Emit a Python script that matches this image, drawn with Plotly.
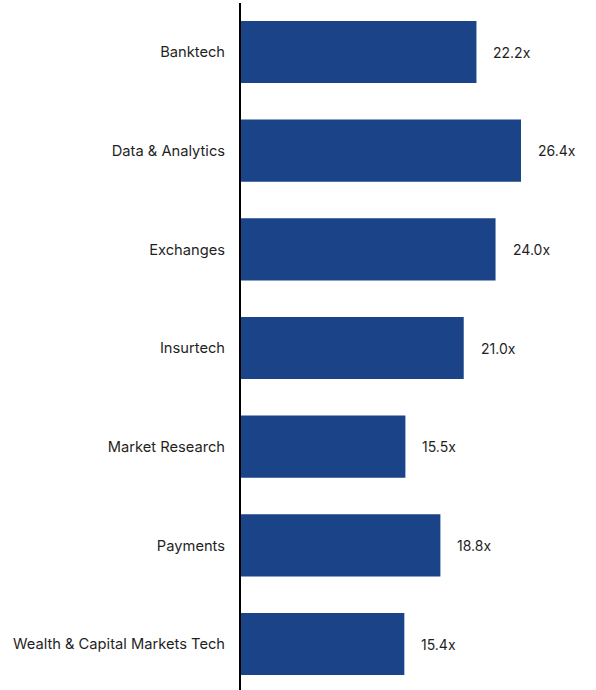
import plotly.graph_objects as go

categories = ['Banktech', 'Data & Analytics', 'Exchanges', 'Insurtech',
              'Market Research', 'Payments', 'Wealth & Capital Markets Tech']
multiples = [22.2, 26.4, 24.0, 21.0, 15.5, 18.8, 15.4]

bar_color = '#1A4487'

fig = go.Figure()
fig.add_trace(go.Bar(
    x=multiples,
    y=categories,
    orientation='h',
    width=0.63,
    marker=dict(color=bar_color, line=dict(width=0)),
    hoverinfo='skip'
))

# value labels sit a bit to the right of each bar
for cat, val in zip(categories, multiples):
    fig.add_annotation(
        x=val, y=cat, text=f'{val:.1f}x',
        showarrow=False, xanchor='left', xshift=15,
        font=dict(size=14, color='#1f1f1f')
    )

fig.update_layout(
    width=596, height=690,
    margin=dict(l=241, r=5, t=3, b=0),
    plot_bgcolor='white', paper_bgcolor='white',
    showlegend=False,
    font=dict(family='Inter, Noto Sans, sans-serif', size=14, color='#1f1f1f'),
    xaxis=dict(range=[0, 33], showgrid=False, zeroline=False,
               showticklabels=False, showline=False),
    yaxis=dict(range=[6.466, -0.497], showgrid=False, zeroline=False,
               showline=True, linecolor='black', linewidth=2,
               ticks='', ticklabelstandoff=11,
               tickfont=dict(size=14.7, color='#1f1f1f')),
)

# drop the default body margin so the figure sits at the page corner
fig.write_html('out.html', config={'displayModeBar': False},
               post_script="document.body.style.margin='0';")
